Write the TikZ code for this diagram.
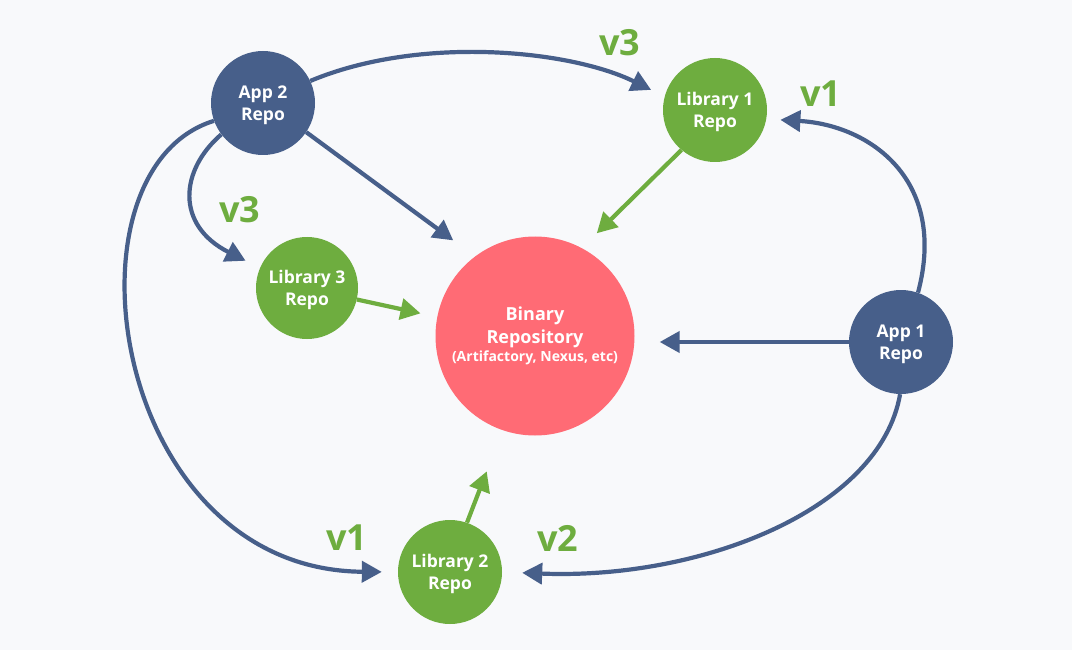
\documentclass[tikz,border=0pt]{standalone}
\usepackage{fontspec}
\setmainfont{Open Sans}
\usetikzlibrary{arrows.meta}
\definecolor{bgc}{HTML}{F8F9FB}
\definecolor{appc}{HTML}{475F8A}
\definecolor{libc}{HTML}{6EAD3F}
\definecolor{binc}{HTML}{FF6B75}
\tikzset{
  repo/.style={circle, inner sep=0pt, minimum size=104pt, text=white, align=center,
    text depth=0pt, font=\fontsize{17.5}{22}\selectfont\bfseries},
  apprepo/.style={repo, fill=appc},
  librepo/.style={repo, fill=libc},
  binrepo/.style={circle, inner sep=0pt, minimum size=199pt, fill=binc, text=white, align=center,
    font=\fontsize{18}{23}\selectfont\bfseries},
  conn/.style={line width=4.2pt, -{Triangle[length=20pt,width=21pt]}},
  appconn/.style={conn, draw=appc},
  libconn/.style={conn, draw=libc},
  ver/.style={text=libc, font=\fontsize{36}{36}\selectfont\bfseries, inner sep=0pt}
}
\begin{document}
\begin{tikzpicture}[x=1pt,y=-1pt]
\fill[bgc] (0,0) rectangle (1072,650);
\useasboundingbox (0,0) rectangle (1072,650);

\node[apprepo] (app2) at (263,103) {App 2\\Repo};
\node[librepo] (lib1) at (715,110) {Library 1\\Repo};
\node[librepo, minimum size=102pt] (lib3) at (307,288) {Library 3\\Repo};
\node[binrepo] (bin) at (535,336) {Binary\\Repository\\[-5pt]{\fontsize{14}{16}\selectfont(Artifactory, Nexus, etc)}};
\node[apprepo] (app1) at (901,342) {App 1\\Repo};
\node[librepo] (lib2) at (450,572) {Library 2\\Repo};

% App 2 connectors
\draw[appconn, shorten >=15pt] (app2.25) .. controls (420,35) and (570,50) .. (lib1.165);
\draw[appconn, shorten >=27pt] (app2.-34) -- (bin.127);
\draw[appconn, shorten >=16pt] (app2.217) .. controls (180,170) and (175,225) .. (lib3.157);
\draw[appconn, shorten >=16pt] (app2.200) .. controls (55,170) and (110,570) .. (lib2.180);

% Library connectors
\draw[libconn, shorten >=21pt] (lib1.230.5) -- (bin.62);
\draw[libconn, shorten >=17pt] (lib3.-13.5) -- (bin.169);
\draw[libconn, shorten >=44pt] (lib2.71) -- (bin.251);

% App 1 connectors
\draw[appconn, shorten >=25pt] (app1.west) -- (bin.east |- app1.west);
\draw[appconn, shorten >=14pt] (app1.71) .. controls (948,180) and (870,125) .. (lib1.-10.5);
\draw[appconn, shorten >=20pt] (app1.-91) .. controls (880,510) and (700,580) .. (lib2.0);

% version labels
\node[ver] (v3a) at (620,43) {v3};
\node[ver] (v1a) at (821,94) {v1};
\node[ver] (v3b) at (240,210) {v3};
\node[ver] (v1b) at (347,538) {v1};
\node[ver] (v2) at (558,538) {v2};
\end{tikzpicture}
\end{document}
